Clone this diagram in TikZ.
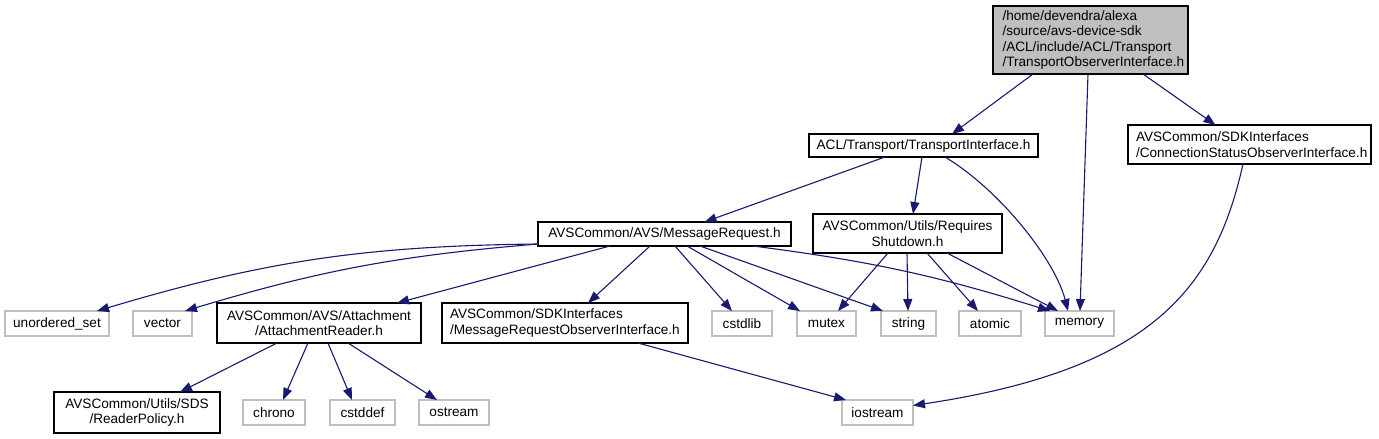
\documentclass[tikz,border=0pt]{standalone}
\usepackage{fontspec}
\setmainfont{Liberation Sans}
\usetikzlibrary{arrows.meta,calc}
\definecolor{edgeblue}{HTML}{191970}
\definecolor{lightgraybd}{HTML}{BFBFBF}
\definecolor{rootfill}{HTML}{BFBFBF}
\begin{document}
\begin{tikzpicture}[x=1pt,y=-1pt,
  every node/.style={font=\fontsize{13.6}{15.4}\selectfont, inner sep=0pt, outer sep=0pt},
  hbox/.style={draw=black, line width=1.2pt, fill=white, minimum height=25pt},
  sbox/.style={draw=lightgraybd, line width=1.2pt, fill=white, minimum height=25pt},
  dep/.style={draw=edgeblue, line width=1.1pt, -{Triangle[length=12pt,width=9pt]}},
]
\useasboundingbox[fill=white] (0,0) rectangle (1379,439);

% row 0
\node[hbox, fill=rootfill, minimum width=195pt, minimum height=68pt, align=left, text width=176pt] (root) at (1090.5,40)
  {/home/devendra/alexa\\/source/avs-device-sdk\\/ACL/include/ACL/Transport\\/TransportObserverInterface.h};
% row 1
\node[hbox, minimum width=229pt, minimum height=23pt] (ti) at (923.5,145.5) {ACL/Transport/TransportInterface.h};
\node[hbox, minimum width=243pt, minimum height=39pt, align=left, text width=227pt] (cso) at (1249.5,144.5)
  {AVSCommon/SDKInterfaces\\/ConnectionStatusObserverInterface.h};
% row 2
\node[hbox, minimum width=253pt, minimum height=24pt] (mr) at (664.5,234) {AVSCommon/AVS/MessageRequest.h};
\node[hbox, minimum width=189pt, minimum height=39pt, align=center] (rs) at (907.5,233.5)
  {AVSCommon/Utils/Requires\\Shutdown.h};
% row 3
\node[sbox, minimum width=104pt] (us) at (57,323.5) {unordered\_set};
\node[sbox, minimum width=59pt] (vec) at (162.5,323.5) {vector};
\node[hbox, minimum width=204pt, minimum height=40pt, align=center] (ar) at (319,323)
  {AVSCommon/AVS/Attachment\\/AttachmentReader.h};
\node[hbox, minimum width=246pt, minimum height=40pt, align=left, text width=230pt] (mroi) at (565,323)
  {AVSCommon/SDKInterfaces\\/MessageRequestObserverInterface.h};
\node[sbox, minimum width=60pt] (cstdlib) at (742,323.5) {cstdlib};
\node[sbox, minimum width=59pt] (mutex) at (826.5,323.5) {mutex};
\node[sbox, minimum width=55pt] (string) at (908.5,323.5) {string};
\node[sbox, minimum width=62pt] (atomic) at (990,323.5) {atomic};
\node[sbox, minimum width=69pt] (mem) at (1079.5,323.5) {memory};
% row 4
\node[hbox, minimum width=166pt, minimum height=41pt, align=center] (rp) at (137,412.5)
  {AVSCommon/Utils/SDS\\/ReaderPolicy.h};
\node[sbox, minimum width=62pt] (chrono) at (274,412.5) {chrono};
\node[sbox, minimum width=65pt] (cstddef) at (362.5,412.5) {cstddef};
\node[sbox, minimum width=70pt] (ostream) at (454,412.5) {ostream};
\node[sbox, minimum width=71pt] (io) at (877.5,412.5) {iostream};

% edges from root
\draw[dep] ([xshift=-57.5pt]root.south) -- ([xshift=28.5pt]ti.north);
\draw[dep] ([xshift=-2.5pt]root.south) -- ([xshift=0.5pt]mem.north);
\draw[dep] ([xshift=52.5pt]root.south) -- ([xshift=-34pt]cso.north);
% edges from TI
\draw[dep] ([xshift=-38.5pt]ti.south) -- ([xshift=40pt]mr.north);
\draw[dep] ([xshift=-1.5pt]ti.south) -- ([xshift=5.5pt]rs.north);
\draw[dep] ([xshift=21.5pt]ti.south) .. controls +(55,33) and +(-13,-51) .. ([xshift=-11.5pt]mem.north);
% edge from CSO
\draw[dep] ([xshift=-6.5pt]cso.south) .. controls +(-28,126) and +(237,-35.5) .. ([yshift=7pt]io.east);
% edges from MR
\draw[dep] ([yshift=2pt]mr.south west) to[bend right=8] ([xshift=40pt]us.north);
\draw[dep] ([yshift=2pt]mr.south west) to[bend right=6] ([xshift=22.5pt]vec.north);
\draw[dep] ([xshift=-54.5pt]mr.south) -- ([xshift=78pt]ar.north);
\draw[dep] ([xshift=-14.5pt]mr.south) -- ([xshift=23pt]mroi.north);
\draw[dep] ([xshift=10.5pt]mr.south) -- ([xshift=-10pt]cstdlib.north);
\draw[dep] ([xshift=22.5pt]mr.south) -- ([xshift=-26.5pt]mutex.north);
\draw[dep] ([xshift=35.5pt]mr.south) -- ([xshift=-25.5pt]string.north);
\draw[dep] ([xshift=88.5pt]mr.south) to[bend left=5] ([xshift=-29.5pt]mem.north);
% edges from RS
\draw[dep] ([xshift=-19.5pt]rs.south) -- ([xshift=11.5pt]mutex.north);
\draw[dep] ([xshift=-0.5pt]rs.south) -- ([xshift=-0.5pt]string.north);
\draw[dep] ([xshift=19.5pt]rs.south) -- ([xshift=-12pt]atomic.north);
\draw[dep] ([xshift=39.5pt]rs.south) -- ([xshift=-21.5pt]mem.north);
% edges from AR
\draw[dep] ([xshift=-42pt]ar.south) -- ([xshift=43pt]rp.north);
\draw[dep] ([xshift=-11pt]ar.south) -- ([xshift=9pt]chrono.north);
\draw[dep] ([xshift=9pt]ar.south) -- ([xshift=-10.5pt]cstddef.north);
\draw[dep] ([xshift=29pt]ar.south) -- ([xshift=-17pt]ostream.north);
% edge from MROI
\draw[dep] ([xshift=73pt]mroi.south) -- ([xshift=-31.5pt]io.north);
\end{tikzpicture}
\end{document}
